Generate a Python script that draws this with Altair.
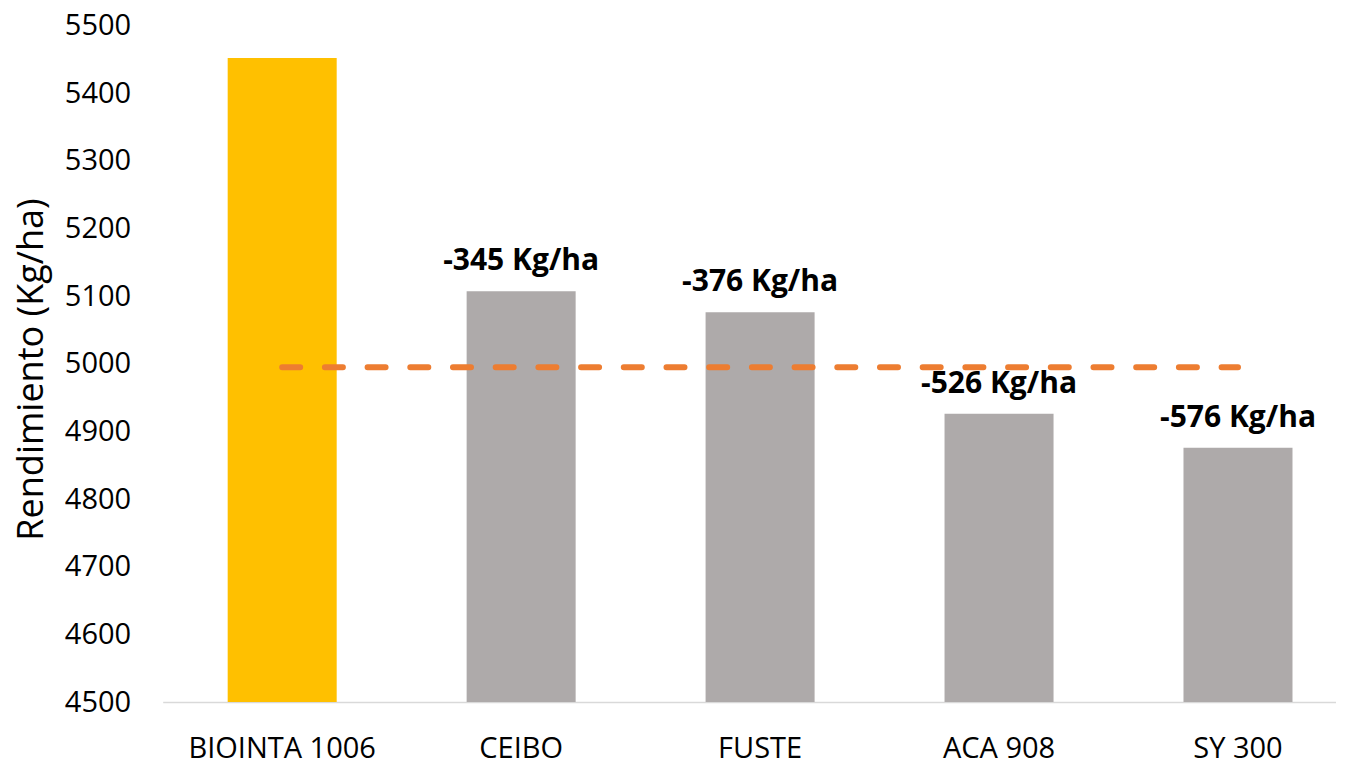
import altair as alt
import pandas as pd

# ---- data ----
categories = ["BIOINTA 1006", "CEIBO", "FUSTE", "ACA 908", "SY 300"]
yields = [5452, 5107, 5076, 4926, 4876]
diff_labels = ["", "-345 Kg/ha", "-376 Kg/ha", "-526 Kg/ha", "-576 Kg/ha"]
bar_colors = ["#FFC000", "#AEAAAA", "#AEAAAA", "#AEAAAA", "#AEAAAA"]
ref_value = 4995
ref_span = ["BIOINTA 1006", "SY 300"]
y_ticks = [4500, 4600, 4700, 4800, 4900, 5000, 5100, 5200, 5300, 5400, 5500]

df = pd.DataFrame({"cat": categories, "y": yields, "label": diff_labels, "color": bar_colors})
ref_df = pd.DataFrame({"cat": ref_span, "y": [ref_value] * len(ref_span)})
lab_df = df[df["label"] != ""]

FONT = "Open Sans"

xscale = alt.Scale(domain=categories, paddingInner=0.5438, paddingOuter=0.227, align=0.599)
yscale = alt.Scale(domain=[4500, 5500], nice=False, zero=False)

x_enc = alt.X(
    "cat:N",
    sort=categories,
    scale=xscale,
    axis=alt.Axis(
        title=None,
        labelAngle=0,
        labelFont=FONT,
        labelFontSize=29,
        labelColor="#000000",
        labelPadding=32,
        labelLimit=0,
        ticks=False,
        domainColor="#D9D9D9",
        domainWidth=1.5,
        grid=False,
    ),
)
y_enc = alt.Y(
    "y:Q",
    scale=yscale,
    axis=alt.Axis(
        values=y_ticks,
        format="d",
        title="Rendimiento (Kg/ha)",
        titleFont=FONT,
        titleFontSize=36,
        titleFontWeight="normal",
        titleColor="#000000",
        titleAngle=270,
        titleAlign="center",
        titleBaseline="alphabetic",
        titleX=-120.7,
        titleY=343.5,
        labelFont=FONT,
        labelFontSize=29,
        labelColor="#000000",
        labelPadding=32,
        ticks=False,
        domain=False,
        grid=False,
    ),
)

bars = alt.Chart(df).mark_bar(clip=True).encode(
    x=x_enc,
    y=y_enc,
    color=alt.Color("color:N", scale=None),
)

ref_line = alt.Chart(ref_df).mark_line(
    color="#ED7D31",
    strokeWidth=6,
    strokeDash=[18, 24.7],
    strokeCap="round",
).encode(
    x=alt.X("cat:N", sort=categories, scale=xscale),
    y=alt.Y("y:Q", scale=yscale),
)

labels = alt.Chart(lab_df).mark_text(
    font=FONT,
    fontSize=30,
    fontWeight="bold",
    baseline="alphabetic",
    dy=-21,
    color="#000000",
).encode(
    x=alt.X("cat:N", sort=categories, scale=xscale),
    y=alt.Y("y:Q", scale=yscale),
    text="label:N",
)

chart = (
    alt.layer(bars, ref_line, labels)
    .properties(
        width=1173.3,
        height=676.5,
        padding={"left": 154.7, "top": 17.5, "right": 0, "bottom": 56},
        autosize=alt.AutoSizeParams(type="none"),
    )
    .configure_view(stroke=None)
)

chart.save("out.html", embed_options={"renderer": "svg", "actions": False})
